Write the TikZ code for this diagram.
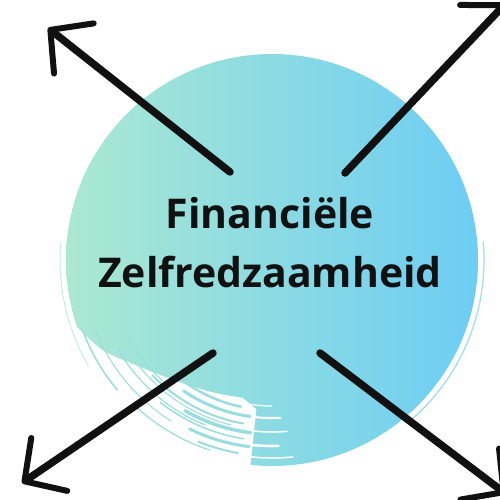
\documentclass[tikz,border=0pt]{standalone}
\usepackage{fontspec}
\setmainfont{Open Sans}
\definecolor{mintLeft}{HTML}{ABE8D2}
\definecolor{skyRight}{HTML}{6CCDF4}
\definecolor{streakTeal}{HTML}{9ADDE0}
\definecolor{inkBlack}{HTML}{111111}
\usetikzlibrary{arrows.meta}

\begin{document}
\begin{tikzpicture}[x=1pt, y=-1pt,
    brushArrow/.style={draw=inkBlack, line width=7.5pt, line cap=round,
      -{Straight Barb[round, length=30pt, width=64pt, line width=6pt]}},
    streak/.style={draw=streakTeal, line cap=round}]
  \useasboundingbox (0,0) rectangle (500,499);
  \clip (0,0) rectangle (500,499);
  \coordinate (hub) at (272,260);
  \shade[left color=mintLeft, right color=skyRight] (hub) circle[radius=206];
  % ragged brush edge, lower left
  \begin{scope}[shift={(hub)}]
    \fill[white] (96:214) arc[start angle=96, end angle=162, radius=214]
      -- plot[smooth] coordinates {(162:208) (152:192) (141:170) (128:154) (114:145) (102:141)}
      -- (96:150) -- cycle;
    \foreach \sa/\ea/\rr/\lw in {87/100/158/2, 85/98/172/1.5, 88/97/186/2.5,
        84/96/198/1.5, 90/104/146/1.2}
      \draw[white, line cap=round, line width=\lw pt] (\sa:\rr) arc[start angle=\sa, end angle=\ea, radius=\rr];
    \foreach \sa/\ea/\rr/\lw in {102/130/150/2.5, 98/124/158/3, 100/136/166/2,
        97/120/174/3.5, 99/128/181/1.5, 97/116/188/3, 100/112/196/2,
        112/150/178/1.2, 122/158/190/1, 140/160/202/1.5, 132/152/163/1,
        104/142/170/1, 108/134/200/1.2}
      \draw[streak, line width=\lw pt] (\sa:\rr) arc[start angle=\sa, end angle=\ea, radius=\rr];
    \draw[draw=skyRight!70, line width=1.2pt] (-5:212) arc[start angle=-5, end angle=50, radius=212];
    \draw[draw=mintLeft!70, line width=1pt] (150:212) arc[start angle=150, end angle=185, radius=212];
  \end{scope}
  \node[font=\bfseries\fontsize{41}{59}\selectfont, align=center, text=inkBlack]
    (title) at (270,243) {Financiële\\Zelfredzaamheid};
  % arrows out to the corners
  \coordinate (tlTail) at (230,172); \coordinate (tlTip) at (48,28);
  \coordinate (trTail) at (345,173); \coordinate (trTip) at (506,3);
  \coordinate (blTail) at (213,353); \coordinate (blTip) at (22,483);
  \coordinate (brTail) at (320,353); \coordinate (brTip) at (506,494);
  \draw[brushArrow] (tlTail) -- (tlTip);
  \draw[brushArrow] (trTail) -- (trTip);
  \draw[brushArrow] (blTail) -- (blTip);
  \draw[brushArrow] (brTail) -- (brTip);
\end{tikzpicture}
\end{document}
